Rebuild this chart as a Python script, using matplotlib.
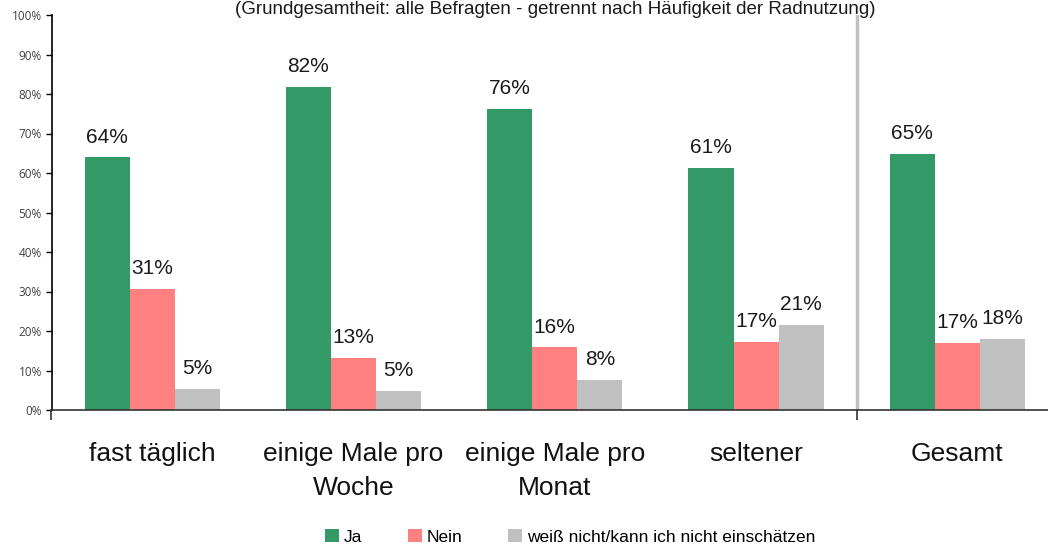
import matplotlib
matplotlib.use("Agg")
import matplotlib.pyplot as plt
from matplotlib.patches import Patch

NARROW = 'Liberation Sans'

categories = ["fast täglich", "einige Male pro\nWoche", "einige Male pro\nMonat", "seltener", "Gesamt"]
series_names = ["Ja", "Nein", "weiß nicht/kann ich nicht einschätzen"]
ja = [64.0, 81.8, 76.2, 61.3, 64.8]
nein = [30.6, 13.2, 15.9, 17.2, 17.0]
weiss = [5.3, 4.8, 7.6, 21.5, 18.0]
labels_ja = ["64%", "82%", "76%", "61%", "65%"]
labels_nein = ["31%", "13%", "16%", "17%", "17%"]
labels_weiss = ["5%", "5%", "8%", "21%", "18%"]
yticks = list(range(0, 101, 10))
title = "(Grundgesamtheit: alle Befragten - getrennt nach Häufigkeit der Radnutzung)"

colors = ["#339966", "#FF8080", "#C0C0C0"]

W, H = 1048, 546
fig = plt.figure(figsize=(W / 100, H / 100), dpi=100)
ax = fig.add_axes([51.5 / W, (H - 410) / H, (W - 51.5) / W, 395 / H])

x = list(range(len(categories)))
bw = 0.224
for k, (vals, labs) in enumerate([(ja, labels_ja), (nein, labels_nein), (weiss, labels_weiss)]):
    off = (k - 1) * bw
    xs = [xi + off for xi in x]
    ax.bar(xs, vals, width=bw, color=colors[k], zorder=2, linewidth=0)
    for xi, v, lab in zip(xs, vals, labs):
        ax.text(xi, v + 2.7, lab, ha='center', va='bottom', fontsize=15,
                family=[NARROW, 'DejaVu Sans'], color='#1a1a1a')

ax.set_xlim(-0.5, 4.45)
ax.set_ylim(0, 100)
ax.axvline(3.5, color='#C0C0C0', lw=2.5, zorder=1)

for s in ['top', 'right']:
    ax.spines[s].set_visible(False)
ax.spines['left'].set_color('#000000')
ax.spines['left'].set_linewidth(1.2)
ax.spines['bottom'].set_color('#333333')
ax.spines['bottom'].set_linewidth(1.2)

ax.set_yticks(yticks)
ax.set_yticklabels([f"{t}%" for t in yticks], fontsize=8.5, color='#404040',
                   family=['Open Sans', 'DejaVu Sans'])
ax.tick_params(axis='y', length=4, width=1, pad=3)
ax.set_xticks([-0.5, 3.5])
ax.set_xticklabels(["", ""])
ax.tick_params(axis='x', length=7.5, width=1.2, color='#333333')

for xi, c in zip(x, categories):
    ax.text(xi, -0.082, c, transform=ax.get_xaxis_transform(), ha='center', va='top',
            fontsize=19, family=[NARROW, 'DejaVu Sans'], color='#111111', linespacing=1.52)

fig.text(555 / W, 1.0 - 1 / H, title, ha='center', va='top', fontsize=13.5,
         family=[NARROW, 'DejaVu Sans'], color='#1a1a1a')

handles = [Patch(facecolor=c, edgecolor='none') for c in colors]
fig.legend(handles, series_names, loc='center', bbox_to_anchor=(0.544, 0.0165), ncol=3,
           frameon=False, handlelength=0.8, handleheight=0.8, handletextpad=0.3,
           columnspacing=2.6, prop={'family': [NARROW, 'DejaVu Sans'], 'size': 12.5})

fig.savefig("out.png", dpi=100)
